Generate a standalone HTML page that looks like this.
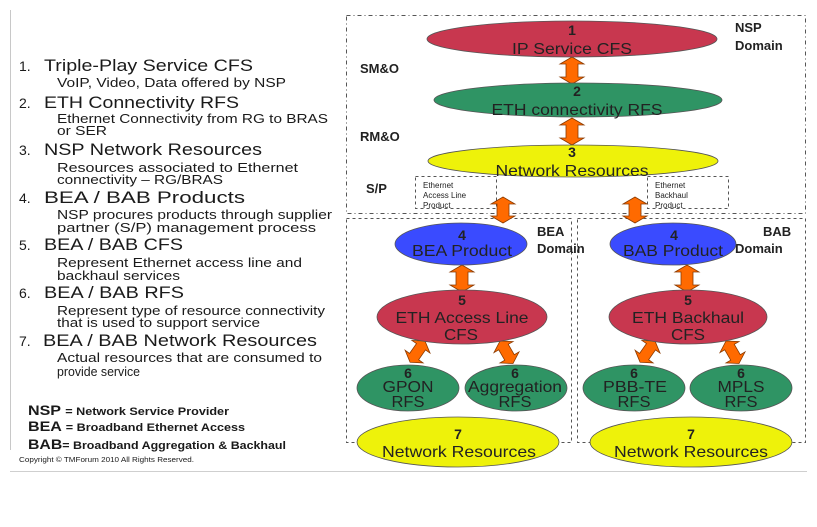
<!DOCTYPE html>
<html><head><meta charset="utf-8"><style>
html,body{margin:0;padding:0;background:#fff;width:817px;height:527px;overflow:hidden}
svg{display:block}
text{font-family:"Liberation Sans",sans-serif}
</style></head><body>
<svg width="817" height="527" viewBox="0 0 817 527" xmlns="http://www.w3.org/2000/svg">
<line x1="10.5" y1="10" x2="10.5" y2="450" stroke="#c8c8c8" stroke-width="1"/>
<line x1="10" y1="471.5" x2="807" y2="471.5" stroke="#cfcfcf" stroke-width="1"/>

<g fill="none" stroke="#555" stroke-width="1" stroke-dasharray="4,3,1,3">
<rect x="346.5" y="15.5" width="459" height="198"/>
</g>
<g fill="none" stroke="#555" stroke-width="1" stroke-dasharray="3,3">
<rect x="346.5" y="218.5" width="225" height="224"/>
<rect x="577.5" y="218.5" width="228" height="224"/>
<rect x="415.5" y="176.5" width="81" height="32"/>
<rect x="647.5" y="176.5" width="81" height="32"/>
</g>

<g fill="#1a1a1a">
<g font-size="14">
<text x="19" y="71">1.</text><text x="19" y="108">2.</text><text x="19" y="155">3.</text>
<text x="19" y="203">4.</text><text x="19" y="250">5.</text><text x="19" y="298">6.</text><text x="19" y="346">7.</text>
</g>
<g font-size="17">
<text x="44" y="71" textLength="209" lengthAdjust="spacingAndGlyphs">Triple-Play Service CFS</text>
<text x="44" y="108" textLength="195" lengthAdjust="spacingAndGlyphs">ETH Connectivity RFS</text>
<text x="44" y="155" textLength="218" lengthAdjust="spacingAndGlyphs">NSP Network Resources</text>
<text x="44" y="203" textLength="201" lengthAdjust="spacingAndGlyphs">BEA / BAB Products</text>
<text x="44" y="250" textLength="139" lengthAdjust="spacingAndGlyphs">BEA / BAB CFS</text>
<text x="44" y="298" textLength="140" lengthAdjust="spacingAndGlyphs">BEA / BAB RFS</text>
<text x="43" y="346" textLength="274" lengthAdjust="spacingAndGlyphs">BEA / BAB Network Resources</text>
</g>
<g font-size="13">
<text x="57" y="87" textLength="229" lengthAdjust="spacingAndGlyphs">VoIP, Video, Data offered by NSP</text>
<text x="57" y="123" textLength="271" lengthAdjust="spacingAndGlyphs">Ethernet Connectivity from RG to BRAS</text>
<text x="57" y="135" textLength="50" lengthAdjust="spacingAndGlyphs">or SER</text>
<text x="57" y="172" textLength="241" lengthAdjust="spacingAndGlyphs">Resources associated to Ethernet</text>
<text x="57" y="184" textLength="166" lengthAdjust="spacingAndGlyphs">connectivity – RG/BRAS</text>
<text x="57" y="219" textLength="275" lengthAdjust="spacingAndGlyphs">NSP procures products through supplier</text>
<text x="57" y="232" textLength="259" lengthAdjust="spacingAndGlyphs">partner (S/P) management process</text>
<text x="57" y="267" textLength="245" lengthAdjust="spacingAndGlyphs">Represent Ethernet access line and</text>
<text x="57" y="280" textLength="123" lengthAdjust="spacingAndGlyphs">backhaul services</text>
<text x="57" y="315" textLength="268" lengthAdjust="spacingAndGlyphs">Represent type of resource connectivity</text>
<text x="57" y="327" textLength="203" lengthAdjust="spacingAndGlyphs">that is used to support service</text>
<text x="57" y="362" textLength="265" lengthAdjust="spacingAndGlyphs">Actual resources that are consumed to</text>
<text x="57" y="376" textLength="83" lengthAdjust="spacingAndGlyphs">provide service</text>
</g>
<text x="28" y="415" font-size="14" font-weight="bold" textLength="201" lengthAdjust="spacingAndGlyphs">NSP <tspan font-size="11">= Network Service Provider</tspan></text>
<text x="28" y="431" font-size="14" font-weight="bold" textLength="217" lengthAdjust="spacingAndGlyphs">BEA <tspan font-size="11">= Broadband Ethernet Access</tspan></text>
<text x="28" y="449" font-size="14" font-weight="bold" textLength="258" lengthAdjust="spacingAndGlyphs">BAB<tspan font-size="11">= Broadband Aggregation &amp; Backhaul</tspan></text>
<text x="19" y="462" font-size="7" textLength="175" lengthAdjust="spacingAndGlyphs">Copyright © TMForum 2010  All  Rights Reserved.</text>
</g>

<g font-size="13" font-weight="bold" fill="#222">
<text x="735" y="32">NSP</text>
<text x="735" y="50">Domain</text>
<text x="360" y="73">SM&amp;O</text>
<text x="360" y="141">RM&amp;O</text>
<text x="366" y="193">S/P</text>
<text x="537" y="236">BEA</text>
<text x="537" y="253">Domain</text>
<text x="763" y="236">BAB</text>
<text x="735" y="253">Domain</text>
</g>
<g font-size="8" fill="#222">
<text x="423" y="188">Ethernet</text><text x="423" y="198">Access Line</text><text x="423" y="208">Product</text>
<text x="655" y="188">Ethernet</text><text x="655" y="198">Backhaul</text><text x="655" y="208">Product</text>
</g>

<g fill="#ff6a00" stroke="#8a3a00" stroke-width="0.8">
<path transform="translate(572,57)" d="M0,0 L12,7 L6,7 L6,20 L12,20 L0,27 L-12,20 L-6,20 L-6,7 L-12,7 Z"/>
<path transform="translate(572,118)" d="M0,0 L12,7 L6,7 L6,20 L12,20 L0,27 L-12,20 L-6,20 L-6,7 L-12,7 Z"/>
<path transform="translate(503,197)" d="M0,0 L12,7 L6,7 L6,19 L12,19 L0,26 L-12,19 L-6,19 L-6,7 L-12,7 Z"/>
<path transform="translate(635,197)" d="M0,0 L12,7 L6,7 L6,19 L12,19 L0,26 L-12,19 L-6,19 L-6,7 L-12,7 Z"/>
<path transform="translate(462,265)" d="M0,0 L12,7 L6,7 L6,20 L12,20 L0,27 L-12,20 L-6,20 L-6,7 L-12,7 Z"/>
<path transform="translate(687,265)" d="M0,0 L12,7 L6,7 L6,20 L12,20 L0,27 L-12,20 L-6,20 L-6,7 L-12,7 Z"/>
<path transform="translate(425,341) rotate(35)" d="M0,0 L11,7 L5.5,7 L5.5,19 L11,19 L0,26 L-11,19 L-5.5,19 L-5.5,7 L-11,7 Z"/>
<path transform="translate(500,341) rotate(-30)" d="M0,0 L11,7 L5.5,7 L5.5,19 L11,19 L0,26 L-11,19 L-5.5,19 L-5.5,7 L-11,7 Z"/>
<path transform="translate(655,341) rotate(35)" d="M0,0 L11,7 L5.5,7 L5.5,19 L11,19 L0,26 L-11,19 L-5.5,19 L-5.5,7 L-11,7 Z"/>
<path transform="translate(726,341) rotate(-30)" d="M0,0 L11,7 L5.5,7 L5.5,19 L11,19 L0,26 L-11,19 L-5.5,19 L-5.5,7 L-11,7 Z"/>
</g>

<g stroke="#555" stroke-width="0.8">
<ellipse cx="572" cy="39" rx="145" ry="18" fill="#c8374f"/>
<ellipse cx="578" cy="100" rx="144" ry="17" fill="#2f9464"/>
<ellipse cx="573" cy="161" rx="145" ry="16" fill="#eef20a"/>
<ellipse cx="461" cy="244" rx="66" ry="21" fill="#3a4bff"/>
<ellipse cx="673" cy="244" rx="63" ry="21" fill="#3a4bff"/>
<ellipse cx="462" cy="317" rx="85" ry="27" fill="#c8374f"/>
<ellipse cx="688" cy="317" rx="79" ry="27" fill="#c8374f"/>
<ellipse cx="408" cy="388" rx="51" ry="23" fill="#2f9464"/>
<ellipse cx="516" cy="388" rx="51" ry="23" fill="#2f9464"/>
<ellipse cx="634" cy="388" rx="51" ry="23" fill="#2f9464"/>
<ellipse cx="741" cy="388" rx="51" ry="23" fill="#2f9464"/>
<ellipse cx="458" cy="442" rx="101" ry="25" fill="#eef20a"/>
<ellipse cx="691" cy="442" rx="101" ry="25" fill="#eef20a"/>
</g>

<g fill="#222" text-anchor="middle">
<g font-size="14" font-weight="bold">
<text x="572" y="35">1</text><text x="577" y="96">2</text><text x="572" y="157">3</text>
<text x="462" y="240">4</text><text x="674" y="240">4</text>
<text x="462" y="305">5</text><text x="688" y="305">5</text>
<text x="408" y="378">6</text><text x="515" y="378">6</text><text x="634" y="378">6</text><text x="741" y="378">6</text>
<text x="458" y="439">7</text><text x="691" y="439">7</text>
</g>
<g font-size="16">
<text x="572" y="54" textLength="120" lengthAdjust="spacingAndGlyphs">IP Service CFS</text>
<text x="577" y="115" textLength="171" lengthAdjust="spacingAndGlyphs">ETH connectivity RFS</text>
<text x="572" y="176" textLength="153" lengthAdjust="spacingAndGlyphs">Network Resources</text>
<text x="462" y="256" textLength="100" lengthAdjust="spacingAndGlyphs">BEA Product</text>
<text x="673" y="256" textLength="100" lengthAdjust="spacingAndGlyphs">BAB Product</text>
<text x="462" y="323" textLength="133" lengthAdjust="spacingAndGlyphs">ETH Access Line</text>
<text x="461" y="340" textLength="34" lengthAdjust="spacingAndGlyphs">CFS</text>
<text x="688" y="323" textLength="112" lengthAdjust="spacingAndGlyphs">ETH Backhaul</text>
<text x="688" y="340" textLength="34" lengthAdjust="spacingAndGlyphs">CFS</text>
<text x="408" y="392" textLength="51" lengthAdjust="spacingAndGlyphs">GPON</text><text x="408" y="407" textLength="33" lengthAdjust="spacingAndGlyphs">RFS</text>
<text x="515" y="392" textLength="94" lengthAdjust="spacingAndGlyphs">Aggregation</text><text x="515" y="407" textLength="33" lengthAdjust="spacingAndGlyphs">RFS</text>
<text x="635" y="392" textLength="64" lengthAdjust="spacingAndGlyphs">PBB-TE</text><text x="634" y="407" textLength="33" lengthAdjust="spacingAndGlyphs">RFS</text>
<text x="741" y="392" textLength="47" lengthAdjust="spacingAndGlyphs">MPLS</text><text x="741" y="407" textLength="33" lengthAdjust="spacingAndGlyphs">RFS</text>
<text x="459" y="457" textLength="154" lengthAdjust="spacingAndGlyphs">Network Resources</text>
<text x="691" y="457" textLength="154" lengthAdjust="spacingAndGlyphs">Network Resources</text>
</g>
</g>
</svg>
</body></html>
